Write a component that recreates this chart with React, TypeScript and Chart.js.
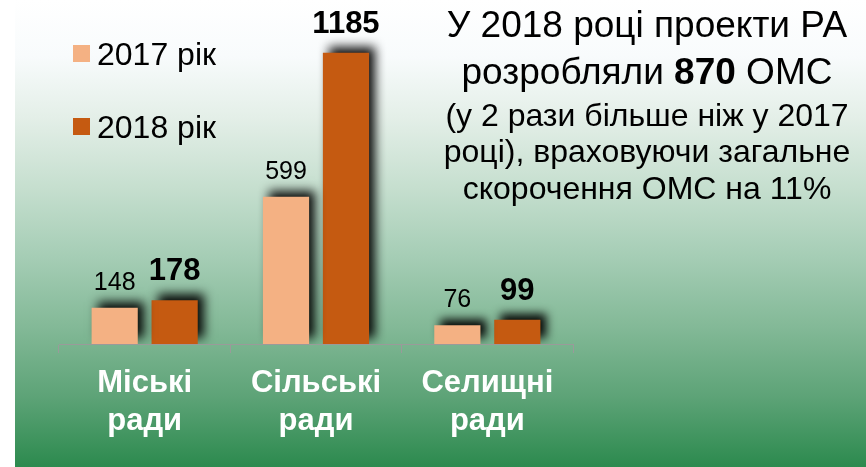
import React, { useEffect, useRef } from "react";
import { Chart, registerables } from "chart.js";

Chart.register(...registerables);

const categories: string[][] = [["Міські", "ради"], ["Сільські", "ради"], ["Селищні", "ради"]];
const series2017: number[] = [148, 599, 76];
const series2018: number[] = [178, 1185, 99];
const seriesLabels: string[] = ["2017 рік", "2018 рік"];
const seriesColors: string[] = ["#F4B183", "#C55A11"];

const FONT = "'Liberation Sans', Arial, sans-serif";

const bgPlugin = {
  id: "bgGradient",
  beforeDraw(chart: any) {
    const ctx = chart.ctx;
    const h = chart.height;
    const w = chart.width;
    ctx.save();
    const g = ctx.createLinearGradient(0, 0, 0, h);
    g.addColorStop(0, "#FFFFFF");
    g.addColorStop(0.12, "#F8FBFC");
    g.addColorStop(0.25, "#E4EFE8");
    g.addColorStop(0.4, "#C6DFCF");
    g.addColorStop(0.55, "#A5CDB5");
    g.addColorStop(0.7, "#83B997");
    g.addColorStop(0.85, "#5DA377");
    g.addColorStop(1, "#2C8A4E");
    ctx.fillStyle = g;
    ctx.fillRect(15, 0, w - 15, h);
    ctx.restore();
  },
};

const shadowPlugin = {
  id: "barShadow",
  beforeDatasetsDraw(chart: any) {
    const ctx = chart.ctx;
    ctx.save();
    ctx.shadowColor = "rgba(0,0,0,0.95)";
    ctx.shadowBlur = 10;
    ctx.shadowOffsetX = 6;
    ctx.shadowOffsetY = -6;
  },
  afterDatasetsDraw(chart: any) {
    const ctx = chart.ctx;
    ctx.restore();
    ctx.save();
    ctx.fillStyle = "#000000";
    ctx.textAlign = "center";
    ctx.textBaseline = "alphabetic";
    chart.data.datasets.forEach((ds: any, di: number) => {
      const meta = chart.getDatasetMeta(di);
      ctx.font = di === 0 ? `normal 25px ${FONT}` : `bold 31px ${FONT}`;
      const gap = di === 0 ? 18 : 20;
      meta.data.forEach((el: any, i: number) => {
        ctx.fillText(String(ds.data[i]), el.x, el.y - gap);
      });
    });
    ctx.restore();
  },
};

const legendPlugin = {
  id: "customLegend",
  afterDraw(chart: any) {
    const ctx = chart.ctx;
    ctx.save();
    ctx.font = `normal 32px ${FONT}`;
    ctx.textAlign = "left";
    ctx.textBaseline = "alphabetic";
    const rows = [53.5, 126.5];
    chart.data.datasets.forEach((ds: any, i: number) => {
      const cy = rows[i];
      ctx.fillStyle = ds.backgroundColor;
      ctx.fillRect(73, cy - 8.5, 17, 17);
      ctx.fillStyle = "#000000";
      ctx.fillText(ds.label, 97, cy + 11.5);
    });
    ctx.restore();
  },
};

export default function App() {
  const ref = useRef<HTMLCanvasElement | null>(null);
  useEffect(() => {
    if (!ref.current) return;
    const chart = new Chart(ref.current, {
      type: "bar",
      data: {
        labels: categories,
        datasets: [
          { label: seriesLabels[0], data: series2017, backgroundColor: seriesColors[0], categoryPercentage: 0.7, barPercentage: 0.77 },
          { label: seriesLabels[1], data: series2018, backgroundColor: seriesColors[1], categoryPercentage: 0.7, barPercentage: 0.77 },
        ],
      },
      options: {
        responsive: false,
        animation: false,
        devicePixelRatio: 1,
        layout: { padding: { left: 59, right: 293, top: 10, bottom: 0 } },
        plugins: { legend: { display: false }, tooltip: { enabled: false }, title: { display: false } },
        scales: {
          x: {
            afterFit: (scale: any) => { scale.height = 123; },
            grid: { display: true, drawOnChartArea: false, drawTicks: true, tickLength: 9, color: "#9A9A9A", offset: true },
            border: { display: true, color: "#9A9A9A", width: 1 },
            ticks: { color: "#FFFFFF", padding: 11, font: { family: FONT, size: 31, weight: "bold", lineHeight: 1.23 }, maxRotation: 0, autoSkip: false },
          },
          y: { display: false, min: 0, max: 1359 },
        },
      },
      plugins: [bgPlugin, shadowPlugin, legendPlugin],
    });
    return () => chart.destroy();
  }, []);

  const lineStyle = (top: number, size: number): React.CSSProperties => ({
    position: "absolute",
    left: 427,
    width: 440,
    top,
    textAlign: "center",
    fontFamily: FONT,
    fontSize: size,
    lineHeight: `${size}px`,
    color: "#000",
    whiteSpace: "nowrap",
  });

  return (
    <div style={{ position: "fixed", left: 0, top: 0, width: 866, height: 467, overflow: "hidden" }}>
      <canvas ref={ref} width={866} height={467} style={{ position: "absolute", left: 0, top: 0, width: 866, height: 467 }} />
      <div style={lineStyle(37 - 0.8465 * 37, 37)}>У 2018 році проекти РА</div>
      <div style={lineStyle(84 - 0.8465 * 37, 37)}>розробляли <b>870</b> ОМС</div>
      <div style={lineStyle(126 - 0.8465 * 32, 32)}>(у 2 рази більше ніж у 2017</div>
      <div style={lineStyle(162 - 0.8465 * 32, 32)}>році), враховуючи загальне</div>
      <div style={lineStyle(199 - 0.8465 * 32, 32)}>скорочення ОМС на 11%</div>
    </div>
  );
}
